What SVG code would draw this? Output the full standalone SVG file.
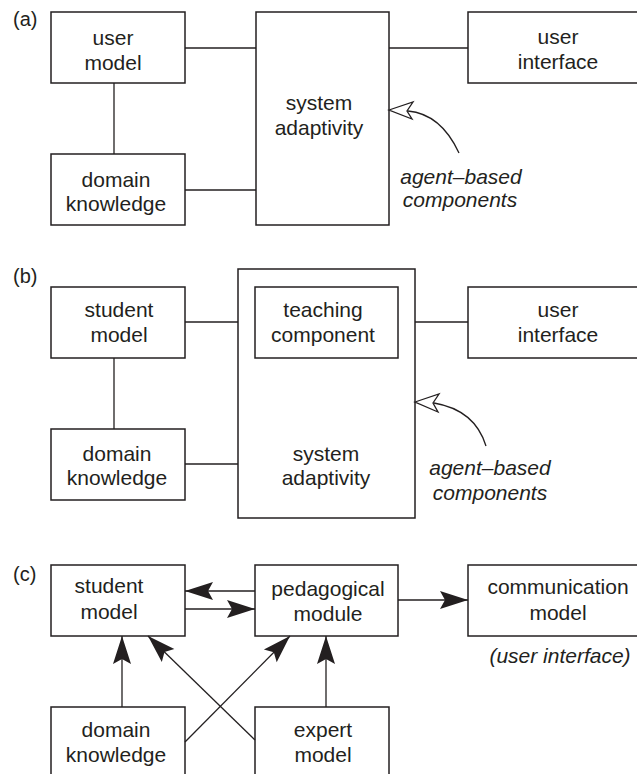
<svg xmlns="http://www.w3.org/2000/svg" width="637" height="774" viewBox="0 0 637 774">
<style>
.box{fill:none;stroke:#231f20;stroke-width:1.5}
.ln{fill:none;stroke:#231f20;stroke-width:1.3}
text{font-family:"Liberation Sans",Arial,Helvetica,sans-serif;font-size:21px;fill:#231f20;text-anchor:middle}
.it{font-style:italic}
.lbl{text-anchor:start;font-size:20px}
.open{fill:#fff;stroke:#231f20;stroke-width:1.3;stroke-linejoin:miter}
</style>
<defs>
<marker id="ah" viewBox="-30 -10 32 20" refX="0" refY="0" markerWidth="32" markerHeight="20" markerUnits="userSpaceOnUse" orient="auto" overflow="visible">
<path d="M0,0 L-28,-9 L-23,0 L-28,9 Z" fill="#231f20"/>
</marker>
</defs>
<rect width="637" height="774" fill="#fff"/>

<!-- (a) -->
<text class="lbl" x="13" y="26">(a)</text>
<g id="a-user-model"><rect class="box" x="51" y="12" width="134" height="71"/><text x="113" y="45">user</text><text x="113" y="70">model</text></g>
<g id="a-domain-knowledge"><rect class="box" x="51" y="154" width="134" height="71"/><text x="116" y="187">domain</text><text x="116" y="211">knowledge</text></g>
<g id="a-system-adaptivity"><rect class="box" x="256" y="12" width="133" height="213"/><text x="319" y="110">system</text><text x="319" y="135">adaptivity</text></g>
<g id="a-user-interface"><rect class="box" x="468" y="12" width="180" height="71"/><text x="558" y="44">user</text><text x="558" y="69">interface</text></g>
<g id="a-agent-note"><text class="it" x="461" y="184">agent–based</text><text class="it" x="460" y="207">components</text></g>

<!-- (b) -->
<text class="lbl" x="13" y="283">(b)</text>
<g id="b-student-model"><rect class="box" x="51" y="287" width="134" height="71"/><text x="119" y="317">student</text><text x="119" y="342">model</text></g>
<g id="b-domain-knowledge"><rect class="box" x="51" y="429" width="134" height="71"/><text x="117" y="461">domain</text><text x="117" y="485">knowledge</text></g>
<g id="b-system-adaptivity"><rect class="box" x="238" y="269" width="177" height="249"/><text x="326" y="461">system</text><text x="326" y="485">adaptivity</text></g>
<g id="b-teaching-component"><rect class="box" x="255" y="287" width="143" height="71"/><text x="323" y="317">teaching</text><text x="323" y="342">component</text></g>
<g id="b-user-interface"><rect class="box" x="468" y="287" width="180" height="71"/><text x="558" y="317">user</text><text x="558" y="342">interface</text></g>
<g id="b-agent-note"><text class="it" x="490" y="475">agent–based</text><text class="it" x="490" y="500">components</text></g>

<!-- (c) -->
<text class="lbl" x="13" y="581">(c)</text>
<g id="c-student-model"><rect class="box" x="51" y="565" width="134" height="71"/><text x="109" y="593">student</text><text x="109" y="619">model</text></g>
<g id="c-pedagogical-module"><rect class="box" x="255" y="565" width="143" height="71"/><text x="328" y="596">pedagogical</text><text x="328" y="621">module</text></g>
<g id="c-communication-model"><rect class="box" x="468" y="565" width="180" height="71"/><text x="558" y="594">communication</text><text x="558" y="620">model</text><text class="it" x="560" y="663">(user interface)</text></g>
<g id="c-domain-knowledge"><rect class="box" x="51" y="707" width="134" height="80"/><text x="116" y="737">domain</text><text x="116" y="762">knowledge</text></g>
<g id="c-expert-model"><rect class="box" x="255" y="707" width="134" height="80"/><text x="323" y="737">expert</text><text x="323" y="762">model</text></g>

<g id="connectors">
<!-- (a) -->
<line class="ln" x1="114" y1="83" x2="114" y2="154"/>
<line class="ln" x1="185" y1="48" x2="256" y2="48"/>
<line class="ln" x1="185" y1="190" x2="256" y2="190"/>
<line class="ln" x1="389" y1="48" x2="468" y2="48"/>
<path class="ln" d="M459,153 Q441,114 408,111"/>
<path class="open" d="M389,110 L413,102 L407,111 L412,119 Z"/>
<!-- (b) -->
<line class="ln" x1="114" y1="358" x2="114" y2="429"/>
<line class="ln" x1="185" y1="322" x2="238" y2="322"/>
<line class="ln" x1="185" y1="464" x2="238" y2="464"/>
<line class="ln" x1="415" y1="322" x2="468" y2="322"/>
<path class="ln" d="M486,446 Q475,410 434,403"/>
<path class="open" d="M415,402 L439,394 L433,403 L438,412 Z"/>
<!-- (c) -->
<line class="ln" x1="255" y1="591" x2="185" y2="591" marker-end="url(#ah)"/>
<line class="ln" x1="185" y1="609" x2="255" y2="609" marker-end="url(#ah)"/>
<line class="ln" x1="398" y1="600" x2="468" y2="600" marker-end="url(#ah)"/>
<line class="ln" x1="122" y1="707" x2="122" y2="636" marker-end="url(#ah)"/>
<line class="ln" x1="326" y1="707" x2="326" y2="636" marker-end="url(#ah)"/>
<line class="ln" x1="255" y1="740" x2="148" y2="636" marker-end="url(#ah)"/>
<line class="ln" x1="185" y1="742" x2="290" y2="636" marker-end="url(#ah)"/>
</g>
</svg>
